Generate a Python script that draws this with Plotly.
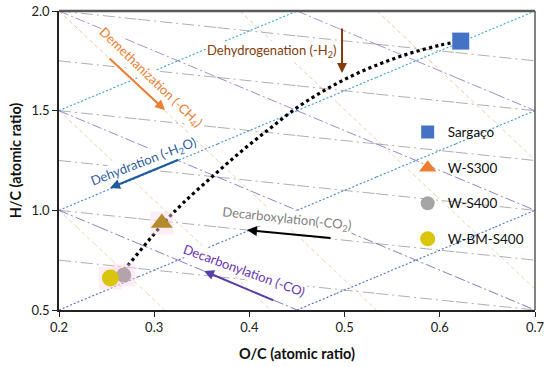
import plotly.graph_objects as go

# ---------------- data ----------------
samples = ["Sargaço", "W-S300", "W-S400", "W-BM-S400"]
oc_values = [0.622, 0.308, 0.268, 0.254]
hc_values = [1.849, 0.936, 0.675, 0.660]
point_symbols = ["square", "triangle-up", "circle", "circle"]
point_colors = ["#4472C4", "#B58A2C", "#B3A3AA", "#D8C50C"]
point_sizes = [17, 19, 15, 17]
legend_colors = ["#4472C4", "#ED7D31", "#A5A5A5", "#D8C50C"]
legend_sizes = [13, 15, 14, 15]

# trend curve
trend_oc = [0.255, 0.27, 0.29, 0.31, 0.33, 0.36, 0.39, 0.42, 0.45, 0.48, 0.51, 0.54, 0.57, 0.60, 0.62]
trend_hc = [0.625, 0.71, 0.825, 0.937, 1.035, 1.165, 1.29, 1.405, 1.515, 1.605, 1.68, 1.74, 1.79, 1.828, 1.848]

# reference reaction lines (start O/C, start H/C, end O/C, end H/C)
dehydration_lines = [(0.2, 1.5, 0.45, 2.0), (0.2, 1.0, 0.7, 2.0), (0.2, 0.5, 0.7, 1.5), (0.45, 0.5, 0.7, 1.0)]
decarbonylation_lines = [(0.2, 2.0, 0.7, 1.0), (0.45, 2.0, 0.7, 1.5), (0.2, 1.5, 0.7, 0.5), (0.2, 1.0, 0.45, 0.5)]
decarboxylation_lines = [(0.2, 2.0, 0.7, 1.75), (0.2, 1.75, 0.7, 1.5), (0.2, 1.5, 0.7, 1.25),
                         (0.2, 1.25, 0.7, 1.0), (0.2, 1.0, 0.7, 0.75), (0.2, 0.75, 0.7, 0.5)]
demethanization_lines = [(0.2, 2.0, 0.5333, 0.5), (0.39, 2.0, 0.7, 0.605), (0.534, 2.0, 0.7, 1.253),
                         (0.2, 1.5, 0.4222, 0.5), (0.2, 1.0, 0.3111, 0.5)]

# reaction labels and arrows (head O/C, head H/C, tail O/C, tail H/C)
labels = ["Dehydrogenation (-H<sub>2</sub>)", "Demethanization (-CH<sub>4</sub>)", "Dehydration (-H<sub>2</sub>O)",
          "Decarboxylation(-CO<sub>2</sub>)", "Decarbonylation (-CO)"]
label_x = [0.4227, 0.2966, 0.2888, 0.439, 0.3938]
label_y = [1.797, 1.664, 1.240, 0.956, 0.700]
label_angle = [0, 44, -21, 6, 20]
label_colors = ["#843C0C", "#ED7D31", "#2E5E9E", "#7F7F7F", "#6A35B0"]
arrows = [(0.4973, 1.689, 0.4973, 1.92), (0.3113, 1.503, 0.2515, 1.769), (0.2536, 1.112, 0.327, 1.257),
          (0.3975, 0.901, 0.4868, 0.861), (0.3523, 0.6955, 0.4269, 0.545)]
arrow_colors = ["#843C0C", "#ED7D31", "#1F5C9E", "#000000", "#5B3DA8"]

FONT = "Lato, 'Open Sans', sans-serif"

def mix(c1, c2, t):
    a = [int(c1[i:i + 2], 16) for i in (1, 3, 5)]
    b = [int(c2[i:i + 2], 16) for i in (1, 3, 5)]
    return "#" + "".join("%02x" % round(a[k] + (b[k] - a[k]) * t) for k in range(3))

fig = go.Figure()

def add_lines(lines, top_col, bot_col, dash, width, nseg=6):
    for (x0, y0, x1, y1) in lines:
        for s in range(nseg):
            t0, t1 = s / nseg, (s + 1) / nseg
            xa, ya = x0 + (x1 - x0) * t0, y0 + (y1 - y0) * t0
            xb, yb = x0 + (x1 - x0) * t1, y0 + (y1 - y0) * t1
            ym = (ya + yb) / 2
            t = (2.0 - ym) / 1.5
            fig.add_trace(go.Scatter(x=[xa, xb], y=[ya, yb], mode="lines", hoverinfo="skip",
                                     line=dict(color=mix(top_col, bot_col, t), dash=dash, width=width),
                                     showlegend=False))

add_lines(demethanization_lines, "#F5BE9A", "#E2D7B8", "4px,3px", 0.9)
add_lines(decarboxylation_lines, "#9A9A9A", "#9A9AA4", "12px,4px,2px,4px", 0.8)
add_lines(decarbonylation_lines, "#A374C8", "#5E58B0", "10px,3px,2px,3px", 0.8)
add_lines(dehydration_lines, "#38B0D6", "#5068C8", "2px,2px", 1.1)

# trend curve
fig.add_trace(go.Scatter(x=trend_oc, y=trend_hc, mode="lines", line=dict(color="black", width=3.2, dash="dot",
                                                                        shape="spline"),
                         showlegend=False, hoverinfo="skip"))

# glow behind the small samples
fig.add_trace(go.Scatter(x=oc_values[1:], y=hc_values[1:], mode="markers", showlegend=False, hoverinfo="skip",
                         marker=dict(symbol="square", size=23, color="rgba(252,215,232,0.45)")))

for i, name in enumerate(samples):
    fig.add_trace(go.Scatter(x=[oc_values[i]], y=[hc_values[i]], mode="markers", showlegend=False,
                             name=name,
                             marker=dict(symbol=point_symbols[i], size=point_sizes[i], color=point_colors[i],
                                         line=dict(width=0))))
# legend entries
for i, name in enumerate(samples):
    fig.add_trace(go.Scatter(x=[None], y=[None], mode="markers", name=name, legendgroup=name,
                             marker=dict(symbol=point_symbols[i], size=legend_sizes[i], color=legend_colors[i],
                                         line=dict(width=0))))

annotations = []
for i, txt in enumerate(labels):
    annotations.append(dict(x=label_x[i], y=label_y[i], xref="x", yref="y", text=txt, showarrow=False,
                            textangle=label_angle[i], font=dict(family=FONT, size=13, color=label_colors[i]),
                            xanchor="center", yanchor="middle", bgcolor="white", borderpad=0))
for i, (hx, hy, tx, ty) in enumerate(arrows):
    annotations.append(dict(x=hx, y=hy, ax=tx, ay=ty, xref="x", yref="y", axref="x", ayref="y", text="",
                            showarrow=True, arrowhead=2, arrowsize=1, arrowwidth=2, arrowcolor=arrow_colors[i],
                            standoff=0, startstandoff=0))

fig.update_layout(
    width=550, height=367,
    margin=dict(l=59, r=15, t=11, b=57),
    paper_bgcolor="white", plot_bgcolor="white",
    font=dict(family=FONT, size=12, color="#222222"),
    annotations=annotations,
    legend=dict(x=0.7325, y=0.646, xanchor="left", yanchor="top", bgcolor="rgba(0,0,0,0)",
                font=dict(family=FONT, size=13.5, color="#111111"), tracegroupgap=15, traceorder="grouped",
                itemsizing="trace"),
    shapes=[
        dict(type="line", xref="paper", yref="paper", x0=0, x1=1, y0=1, y1=1, line=dict(color="#595959", width=2.5)),
        dict(type="line", xref="paper", yref="paper", x0=1, x1=1, y0=0, y1=1, line=dict(color="#595959", width=1.5)),
    ],
)
fig.update_xaxes(range=[0.2, 0.7], dtick=0.1, tick0=0.2, tickformat=".1f", showgrid=False, zeroline=False,
                 automargin=False,
                 showline=True, linecolor="#222222", linewidth=1.5, ticks="outside", ticklen=5, tickcolor="#222222",
                 tickfont=dict(family=FONT, size=13, color="#222222"),
                 title=dict(text="<b>O/C (atomic ratio)</b>", font=dict(family=FONT, size=14.5, color="#111111"),
                            standoff=15))
fig.update_yaxes(range=[0.5, 2.0], dtick=0.5, tick0=0.5, tickformat=".1f", showgrid=False, zeroline=False,
                 automargin=False,
                 showline=True, linecolor="#222222", linewidth=1.5, ticks="outside", ticklen=5, tickcolor="#222222",
                 tickfont=dict(family=FONT, size=13, color="#222222"),
                 title=dict(text="<b>H/C (atomic ratio)</b>", font=dict(family=FONT, size=14.5, color="#111111"),
                            standoff=6))

fig.write_html("out.html", config={"displayModeBar": False},
               post_script="document.body.style.margin='0';document.body.style.padding='0';")
